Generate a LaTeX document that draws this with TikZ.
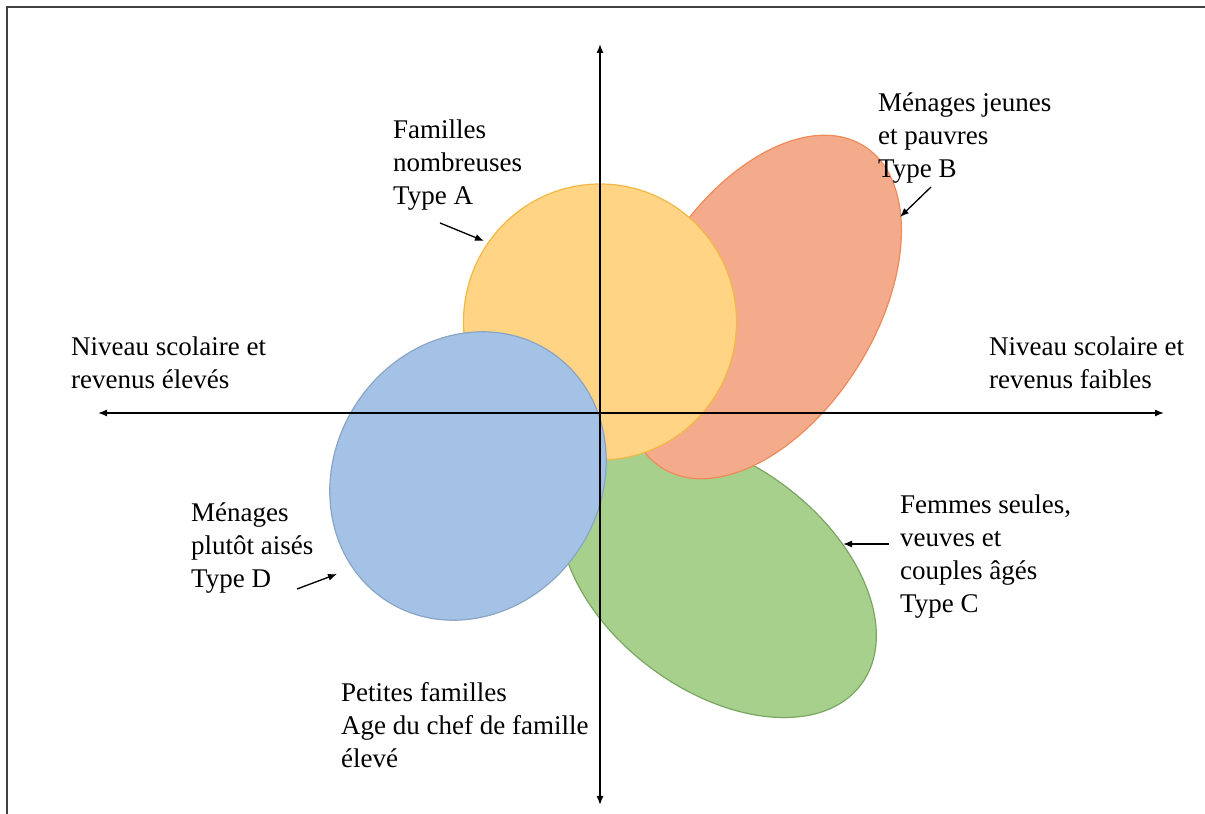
\documentclass[tikz,border=0pt]{standalone}
\usepackage{fontspec}
\setmainfont{Liberation Serif}
\usetikzlibrary{arrows.meta}
\definecolor{yfill}{HTML}{FFD485}
\definecolor{ydraw}{HTML}{F2B843}
\definecolor{ofill}{HTML}{F4AB8C}
\definecolor{odraw}{HTML}{EE8A5A}
\definecolor{gfill}{HTML}{A8D08D}
\definecolor{gdraw}{HTML}{7AA662}
\definecolor{bfill}{HTML}{A4C2E6}
\definecolor{bdraw}{HTML}{8AA4C4}
\tikzset{
  lbl/.style={anchor=base west, inner sep=0pt, align=left, font=\fontsize{27}{33}\selectfont},
  axis/.style={line width=1.4pt, {Latex[length=9pt,width=7pt]}-{Latex[length=9pt,width=7pt]}},
  pointer/.style={line width=1.3pt, -{Latex[length=9pt,width=7pt]}},
  blob/.style={line width=1.2pt}
}
\begin{document}
\begin{tikzpicture}[x=1pt,y=1pt]
\useasboundingbox (0,0) rectangle (1205,814);
\fill[white] (0,0) rectangle (1205,814);
\draw[line width=1.6pt, black!75] (7,-10) -- (7,807) -- (1215,807);
% ellipses
\draw[blob, fill=gfill, draw=gdraw] (718,237) ellipse[x radius=179, y radius=113, rotate=-37];
\draw[blob, fill=ofill, draw=odraw] (763,507) ellipse[x radius=190, y radius=112, rotate=58];
\draw[blob, fill=yfill, draw=ydraw] (600,492) ellipse[x radius=136.5, y radius=138];
\draw[blob, fill=bfill, draw=bdraw] (468,338) ellipse[x radius=149, y radius=133, rotate=56];
% axes
\coordinate (xl) at (98,401);
\coordinate (xr) at (1164,401);
\coordinate (yb) at (600,9);
\coordinate (yt) at (600,770);
\draw[axis] (xl) -- (xr);
\draw[axis] (yb) -- (yt);
% labels (base = baseline of last line)
\node[lbl] (la) at (393,609) {Familles\\nombreuses\\Type A};
\node[lbl] (lb) at (878,636) {Ménages jeunes\\et pauvres\\Type B};
\node[lbl] (lx1) at (71,425) {Niveau scolaire et\\revenus élevés};
\node[lbl] (lx2) at (989,425) {Niveau scolaire et\\revenus faibles};
\node[lbl] (ld) at (191,226) {Ménages\\plutôt aisés\\Type D};
\node[lbl] (lc) at (900,201) {Femmes seules,\\veuves et\\couples âgés\\Type C};
\node[lbl] (ly) at (341,46) {Petites familles\\Age du chef de famille\\élevé};
% pointers
\coordinate (a1) at (440,591); \coordinate (a2) at (484,573);
\coordinate (b1) at (931,627); \coordinate (b2) at (900,597);
\coordinate (d1) at (297,225); \coordinate (d2) at (337,240);
\coordinate (c1) at (889,270); \coordinate (c2) at (843,270);
\draw[pointer] (a1) -- (a2);
\draw[pointer] (b1) -- (b2);
\draw[pointer] (d1) -- (d2);
\draw[pointer] (c1) -- (c2);
\end{tikzpicture}
\end{document}
